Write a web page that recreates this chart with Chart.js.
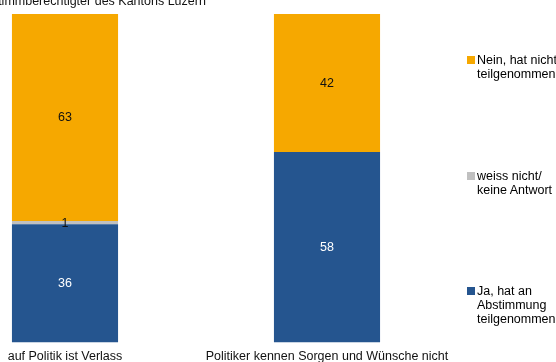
<!DOCTYPE html>
<html lang="de">
<head>
<meta charset="utf-8">
<title>Teilnahme an der Abstimmung</title>
<script src="https://cdn.jsdelivr.net/npm/chart.js@4.4.1/dist/chart.umd.min.js"></script>
<style>
  html, body { margin: 0; padding: 0; background: #fff; }
  #frame { position: relative; width: 556px; height: 362px; overflow: hidden; font-family: "Liberation Sans", Arial, sans-serif; }
  #wrap { position: absolute; left: -70px; top: 0; width: 626px; height: 370px; }
  #legend { position: absolute; left: 467px; top: 0; width: 120px; height: 362px; }
  .item { position: absolute; left: 0; padding-left: 10px; font-size: 12.5px; line-height: 14px; color: #000; white-space: nowrap; }
  .item i { position: absolute; left: 0; top: 3px; width: 8px; height: 8px; }
</style>
</head>
<body>
<div id="frame">
  <div id="wrap"><canvas id="turnoutChart"></canvas></div>
  <div id="legend"></div>
</div>
<script>
// Categories and shares in %
const categories = ['auf Politik ist Verlass', 'Politiker kennen Sorgen und Wünsche nicht'];
const jaValues = [36, 58];
const weissNichtValues = [1, 0];
const neinValues = [63, 42];

const seriesNames = [
    ['Ja, hat an', 'Abstimmung', 'teilgenommen'],
    ['weiss nicht/', 'keine Antwort'],
    ['Nein, hat nicht', 'teilgenommen']
];
const seriesColors = ['#25558F', '#C0C0C0', '#F6A800'];
const labelColors = ['#ffffff', '#111111', '#111111'];

const subtitle = 'in % Stimmberechtigter des Kantons Luzern';
const FONT = '"Liberation Sans", Arial, sans-serif';

// Value labels in the middle of each segment
const valueLabels = {
    id: 'valueLabels',
    afterDatasetsDraw(chart) {
        const ctx = chart.ctx;
        ctx.save();
        ctx.font = '12.5px ' + FONT;
        ctx.textAlign = 'center';
        ctx.textBaseline = 'middle';
        chart.data.datasets.forEach((ds, i) => {
            chart.getDatasetMeta(i).data.forEach((bar, j) => {
                const v = ds.data[j];
                if (!v) return;
                const p = bar.getProps(['x', 'y', 'base'], true);
                ctx.fillStyle = labelColors[i];
                ctx.fillText(v, p.x, (p.y + p.base) / 2 + 0.5);
            });
        });
        ctx.restore();
    }
};

// Subtitle line at the top left
const subtitleText = {
    id: 'subtitleText',
    afterDraw(chart) {
        const ctx = chart.ctx;
        ctx.save();
        ctx.font = '12.5px ' + FONT;
        ctx.fillStyle = '#111111';
        ctx.textAlign = 'left';
        ctx.textBaseline = 'alphabetic';
        ctx.fillText(subtitle, 32, 4.5);
        ctx.restore();
    }
};

const data = {
    labels: categories,
    datasets: [jaValues, weissNichtValues, neinValues].map((values, i) => ({
        label: seriesNames[i].join(' '),
        data: values,
        backgroundColor: seriesColors[i],
        borderWidth: 0,
        categoryPercentage: 1,
        barPercentage: 0.405
    }))
};

const options = {
    responsive: true,
    maintainAspectRatio: false,
    animation: false,
    layout: { padding: { left: 4, right: 98, top: 14, bottom: 0 } },
    plugins: {
        legend: { display: false },
        tooltip: { enabled: false }
    },
    scales: {
        x: {
            stacked: true,
            grid: { display: false, drawTicks: false },
            border: { display: false },
            ticks: {
                color: '#111111',
                font: { family: FONT, size: 12.5, lineHeight: 1 },
                padding: 7.5,
                maxRotation: 0,
                autoSkip: false
            }
        },
        y: {
            stacked: true,
            min: 0,
            max: 100,
            display: false
        }
    }
};

const ctx = document.getElementById('turnoutChart').getContext('2d');
new Chart(ctx, {
    type: 'bar',
    data: data,
    options: options,
    plugins: [valueLabels, subtitleText]
});

// Legend on the right, top entry is the top segment
const legend = document.getElementById('legend');
[2, 1, 0].forEach((s, k) => {
    const item = document.createElement('div');
    item.className = 'item';
    item.style.top = (53 + k * 115.5) + 'px';
    const swatch = document.createElement('i');
    swatch.style.background = seriesColors[s];
    item.appendChild(swatch);
    seriesNames[s].forEach((line, n) => {
        if (n) item.appendChild(document.createElement('br'));
        item.appendChild(document.createTextNode(line));
    });
    legend.appendChild(item);
});
</script>
</body>
</html>
